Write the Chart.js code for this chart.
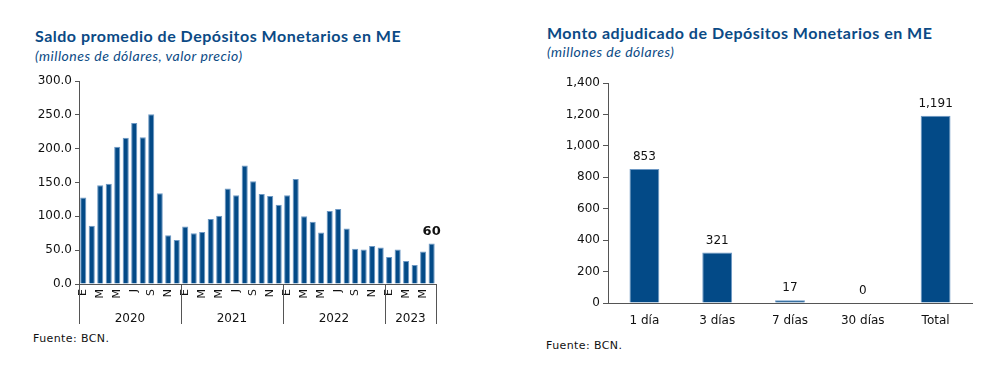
<!DOCTYPE html>
<html>
<head>
<meta charset="utf-8">
<script src="https://cdn.jsdelivr.net/npm/chart.js@4.4.0/dist/chart.umd.min.js"></script>
<style>
  html, body { margin: 0; padding: 0; background: #fff; }
  body { width: 998px; height: 389px; position: relative; overflow: hidden; font-family: "DejaVu Sans", sans-serif; }
  .title { position: absolute; color: #0b4a85; font-family: "Lato", "Open Sans", sans-serif; font-weight: 700; font-size: 16px; letter-spacing: 0.5px; white-space: nowrap; }
  .sub { position: absolute; color: #0b4a85; font-family: "Lato", "Open Sans", sans-serif; font-style: italic; font-size: 14px; letter-spacing: 0.5px; white-space: nowrap; }
  .src { position: absolute; color: #111; font-family: "DejaVu Sans", sans-serif; font-size: 11px; white-space: nowrap; letter-spacing: 0.4px; }
  .box { position: absolute; }
</style>
</head>
<body>
<div class="title" style="left:35px; top:26px;">Saldo promedio de Depósitos Monetarios en ME</div>
<div class="sub" style="left:35px; top:47px;">(millones de dólares, valor precio)</div>
<div class="title" style="left:547px; top:23px;">Monto adjudicado de Depósitos Monetarios en ME</div>
<div class="sub" style="left:547px; top:43px;">(millones de dólares)</div>
<div class="src" style="left:33px; top:332px;">Fuente: BCN.</div>
<div class="src" style="left:546px; top:339px;">Fuente: BCN.</div>

<div class="box" style="left:30px; top:70px; width:420px; height:260px;"><canvas id="c1"></canvas></div>
<div class="box" style="left:560px; top:70px; width:430px; height:270px;"><canvas id="c2"></canvas></div>

<script>
// ---- Data: left chart ----
const monthLetters = ["E","F","M","A","M","J","J","A","S","O","N","D"];
const years = ["2020","2021","2022","2023"];
const monthsPerYear = [12, 12, 12, 6];
const saldo2020 = [128, 86, 146, 148, 203, 216, 238, 217, 251, 134, 72, 65];
const saldo2021 = [85, 75, 77, 96, 101, 141, 131, 175, 152, 133, 130, 117];
const saldo2022 = [131, 155, 100, 92, 76, 108, 111, 82, 52, 51, 56, 54];
const saldo2023 = [40, 51, 34, 28, 48, 60];
const leftTicks = [0, 50, 100, 150, 200, 250, 300];

// ---- Data: right chart ----
const plazos = ["1 día", "3 días", "7 días", "30 días", "Total"];
const montos = [853, 321, 17, 0, 1191];
const rightTicks = [0, 200, 400, 600, 800, 1000, 1200, 1400];

const BAR = "#034a87";
const EDGE = "#6d98c4";
const AXIS = "#555555";

const monthLabels = [];
const yearOfIndex = [];
monthsPerYear.forEach((n, yi) => {
  for (let m = 0; m < n; m++) { monthLabels.push(monthLetters[m]); yearOfIndex.push(yi); }
});
const saldo = [].concat(saldo2020, saldo2021, saldo2022, saldo2023);

// Year labels + separators for the left chart
const yearAxisPlugin = {
  id: 'yearAxis',
  afterDraw(chart) {
    const x = chart.scales.x, area = chart.chartArea, ctx = chart.ctx;
    const top = area.bottom, bottom = area.bottom + 40;
    const bounds = [area.left];
    for (let i = 1; i < yearOfIndex.length; i++) {
      if (yearOfIndex[i] !== yearOfIndex[i - 1]) bounds.push((x.getPixelForValue(i - 1) + x.getPixelForValue(i)) / 2);
    }
    bounds.push(area.right);
    ctx.save();
    ctx.strokeStyle = AXIS; ctx.lineWidth = 1;
    bounds.forEach(b => {
      const xx = Math.round(b) + 0.5;
      ctx.beginPath(); ctx.moveTo(xx, top); ctx.lineTo(xx, bottom); ctx.stroke();
    });
    ctx.fillStyle = "#111"; ctx.font = "12px 'DejaVu Sans'"; ctx.textAlign = "center"; ctx.textBaseline = "middle";
    years.forEach((y, i) => ctx.fillText(y, (bounds[i] + bounds[i + 1]) / 2, area.bottom + 35));
    ctx.restore();
  }
};

// Value labels above bars
function valueLabelPlugin(id, indices, font, fmt, gap) {
  return {
    id,
    afterDatasetsDraw(chart) {
      const ctx = chart.ctx, meta = chart.getDatasetMeta(0), data = chart.data.datasets[0].data;
      ctx.save();
      ctx.fillStyle = "#111"; ctx.font = font; ctx.textAlign = "center"; ctx.textBaseline = "bottom";
      indices(data).forEach(i => {
        const el = meta.data[i];
        ctx.fillText(fmt(data[i]), el.x, el.y - gap);
      });
      ctx.restore();
    }
  };
}

new Chart(document.getElementById('c1'), {
  type: 'bar',
  data: { labels: monthLabels, datasets: [{ data: saldo, backgroundColor: BAR, borderColor: EDGE, borderWidth: 1, barPercentage: 0.72, categoryPercentage: 1.0 }] },
  options: {
    responsive: true, maintainAspectRatio: false, animation: false,
    layout: { padding: { top: 11, right: 13, left: 0, bottom: 0 } },
    plugins: { legend: { display: false }, tooltip: { enabled: false } },
    scales: {
      x: {
        grid: { display: false, drawTicks: false },
        border: { display: true, color: AXIS, width: 1 },
        ticks: {
          autoSkip: false, maxRotation: 90, minRotation: 90, padding: 5,
          color: "#111", font: { family: "DejaVu Sans", size: 11 },
          callback: function (v, i) { return i % 2 === 0 ? monthLabels[i] : ''; }
        },
        afterFit(s) { s.height = 46; }
      },
      y: {
        min: 0, max: 300,
        afterBuildTicks(s) { s.ticks = leftTicks.map(v => ({ value: v })); },
        grid: { display: true, drawOnChartArea: false, drawTicks: true, tickLength: 4, color: AXIS },
        border: { display: true, color: AXIS, width: 1 },
        ticks: { color: "#111", padding: 3, font: { family: "DejaVu Sans", size: 12 }, callback: v => v.toFixed(1) },
        afterFit(s) { s.width = 49; }
      }
    }
  },
  plugins: [yearAxisPlugin, valueLabelPlugin('lastLabel', d => [d.length - 1], "bold 13px 'DejaVu Sans'", v => String(v), 5)]
});

new Chart(document.getElementById('c2'), {
  type: 'bar',
  data: { labels: plazos, datasets: [{ data: montos, backgroundColor: BAR, borderColor: EDGE, borderWidth: 1, barPercentage: 0.41, categoryPercentage: 1.0, minBarLength: 0 }] },
  options: {
    responsive: true, maintainAspectRatio: false, animation: false,
    layout: { padding: { top: 13, right: 18, left: 0, bottom: 0 } },
    plugins: { legend: { display: false }, tooltip: { enabled: false } },
    scales: {
      x: {
        grid: { display: false, drawTicks: false },
        border: { display: true, color: AXIS, width: 1 },
        ticks: { padding: 11, color: "#111", font: { family: "DejaVu Sans", size: 12 } },
        afterFit(s) { s.height = 37; }
      },
      y: {
        min: 0, max: 1400,
        afterBuildTicks(s) { s.ticks = rightTicks.map(v => ({ value: v })); },
        grid: { display: true, drawOnChartArea: false, drawTicks: true, tickLength: 5, color: AXIS },
        border: { display: true, color: AXIS, width: 1 },
        ticks: { color: "#111", padding: 3, font: { family: "DejaVu Sans", size: 12 }, callback: v => v.toLocaleString('en-US') },
        afterFit(s) { s.width = 48; }
      }
    }
  },
  plugins: [valueLabelPlugin('allLabels', d => d.map((_, i) => i), "12px 'DejaVu Sans'", v => v.toLocaleString('en-US'), 6)]
});
</script>
</body>
</html>
